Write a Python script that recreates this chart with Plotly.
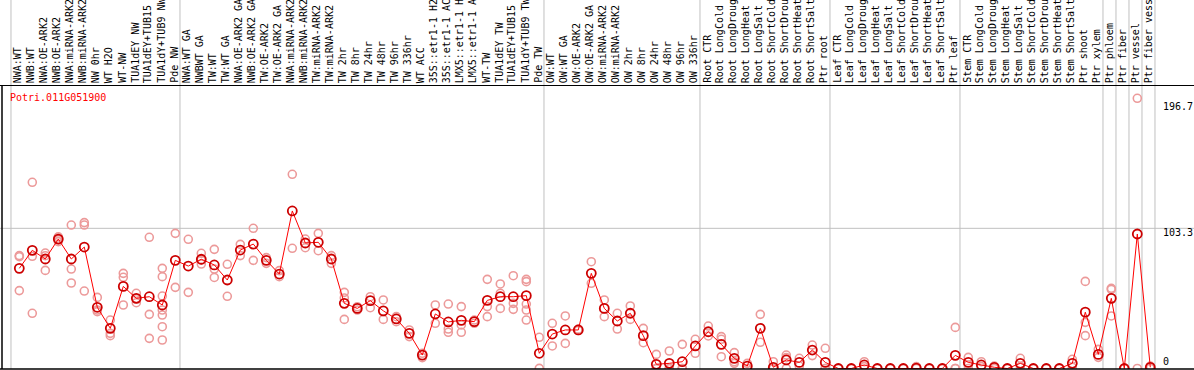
import plotly.graph_objects as go

gene = "Potri.011G051900"

categories = [
    "NWA:WT", "NWB:WT", "NWA:OE-ARK2", "NWB:OE-ARK2", "NWA:miRNA-ARK2", "NWB:miRNA-ARK2",
    "NW 0hr", "WT H2O", "WT-NW", "TUA1dEY NW", "TUA1dEY+TUB15", "TUA1dY+TUB9 NW", "Pde NW",
    "NWA:WT GA", "NWBWT GA", "TW:WT", "TW:WT GA", "NWA:OE-ARK2 GA", "NWB:OE-ARK2 GA",
    "TW:OE-ARK2", "TW:OE-ARK2 GA", "NWA:miRNA-ARK2", "NWB:miRNA-ARK2", "TW:miRNA-ARK2",
    "TW:miRNA-ARK2", "TW 2hr", "TW 8hr", "TW 24hr", "TW 48hr", "TW 96hr", "TW 336hr",
    "WT ACC", "35S::etr1-1 H2", "35S::etr1-1 AC", "LMX5::etr1-1 H", "LMX5::etr1-1 A",
    "WT-TW", "TUA1dEY TW", "TUA1dEY+TUB15", "TUA1dY+TUB9 TW", "Pde TW",
    "OW:WT", "OW:WT GA", "OW:OE-ARK2", "OW:OE-ARK2 GA", "OW:miRNA-ARK2", "OW:miRNA-ARK2",
    "OW 2hr", "OW 8hr", "OW 24hr", "OW 48hr", "OW 96hr", "OW 336hr",
    "Root CTR", "Root LongCold", "Root LongDroug", "Root LongHeat", "Root LongSalt",
    "Root ShortCold", "Root ShortDrou", "Root ShortHeat", "Root ShortSalt", "Ptr root",
    "Leaf CTR", "Leaf LongCold", "Leaf LongDroug", "Leaf LongHeat", "Leaf LongSalt",
    "Leaf ShortCold", "Leaf ShortDrou", "Leaf ShortHeat", "Leaf ShortSalt", "Ptr leaf",
    "Stem CTR", "Stem LongCold", "Stem LongDroug", "Stem LongHeat", "Stem LongSalt",
    "Stem ShortCold", "Stem ShortDrou", "Stem ShortHeat", "Stem ShortSalt",
    "Ptr shoot", "Ptr xylem", "Ptr phloem", "Ptr fiber", "Ptr vessel", "Ptr fiber vess",
]

means = [
    73.8, 87.1, 80.7, 95.4, 80.7, 89.5, 45.1, 29.6, 60.5, 51.7, 52.9, 46.8, 79.7,
    75.5, 80.5, 76.3, 65.2, 87.3, 91.7, 79.7, 69.6, 116.1, 92.5, 93.0, 80.7, 48.0,
    44.3, 50.0, 42.5, 36.5, 25.9, 9.9, 40.2, 34.3, 35.5, 34.5, 50.2, 52.9, 52.9,
    53.7, 11.2,
    25.4, 28.4, 28.4, 70.1, 44.3, 35.0, 40.7, 24.2, 3.1, 3.8, 5.0, 16.6,
    27.1, 17.8, 7.5, 1.8, 29.6, 0.9, 6.3, 4.5, 13.6, 4.5,
    0.0, 0.0, 2.6, 0.0, 0.0, 0.0, 0.3, 0.0, 0.0, 9.7,
    4.5, 2.6, 0.9, 0.0, 3.8, 0.0, 0.0, 0.0, 3.8,
    41.5, 10.4, 51.7, 0.0, 99.1, 0.9,
]

replicates = [
    [83.2, 82.4, 57.4], [137.2, 82.7, 40.7], [85.1, 83.1, 72.3], [97.0, 95.0, 93.5],
    [105.7, 73.3, 63.0], [107.5, 105.7, 57.1], [52.4, 43.1, 41.9], [35.7, 25.9, 24.2],
    [70.1, 67.2, 46.8], [55.4, 51.5, 48.5], [96.7, 39.9, 22.2],
    [73.8, 67.7, 53.4, 43.1, 39.4, 30.8, 21.0], [99.6, 59.8],
    [95.2, 56.1], [84.9, 80.0, 77.0], [87.8, 73.3, 67.1], [76.8, 53.2], [91.5, 83.2],
    [103.3, 79.7], [81.7, 77.5], [72.1, 67.7], [143.1, 88.6], [95.4, 89.0],
    [99.6, 86.8], [83.2, 77.5], [56.1, 52.0, 36.2], [45.5, 43.1], [52.9, 44.8],
    [50.5, 36.2], [38.2, 34.5], [28.4, 23.5], [11.2, 8.0], [46.8, 33.3],
    [47.5, 29.1, 26.7], [45.6, 32.1, 26.7], [35.7, 33.3], [65.7, 45.6, 38.2],
    [62.3, 55.4, 44.3], [68.4, 48.0, 43.6], [65.7, 64.0, 47.5, 43.1, 35.7], [23.0, 0.1],
    [33.3, 16.6], [38.7, 18.5], [29.0, 28.0], [78.7, 62.8], [50.5, 38.2], [40.7, 29.1],
    [46.1, 36.2], [29.6, 19.0], [10.4, 0.0, 0.0], [12.9, 0.0, 0.0], [17.8, 0.0, 0.0],
    [21.5, 11.2],
    [31.3, 24.0], [23.5, 21.5, 8.7], [11.7, 5.0, 3.8], [3.8, 0.0], [39.9, 19.3],
    [5.0, 0.0], [9.9, 8.0, 0.0], [7.5, 1.8], [17.3, 9.5], [14.9, 0.0, 0.0],
    [0.0, 0.0], [0.0, 0.0], [5.0, 1.4], [0.0, 0.0], [0.0, 0.0], [0.0, 0.0],
    [1.4, 0.0], [0.0, 0.0], [0.0, 0.0], [30.3, 0.0, 0.0],
    [8.2, 2.6, 0.0], [5.0, 1.4], [1.8, 0.0], [0.0, 0.0], [7.5, 1.4], [0.0, 0.0],
    [0.0, 0.0], [0.0, 0.0], [6.8, 0.9],
    [64.2, 34.0, 24.2], [14.1, 8.2], [59.1, 58.3, 38.7], [0.0, 0.0], [199.1, 0.0],
    [1.8, 0.0],
]

# index of the last column in each group (a gray separator follows it)
group_ends = [-1, 12, 40, 52, 62, 72, 83, 84, 85, 86, 87]

y_ticks = [196.7, 103.3, 0]

W, H = 1194, 370
ML, MR, MT, MB = 2, 0, 85, 1
plot_h = H - MT - MB
plot_w = W - ML - MR

# px = 19.3 + 13*i  ->  axis range
x0 = (ML - 19.3) / 13.0
x1 = (W - MR - 19.3) / 13.0
# y px = 368.5 - 1.357*v
y_lo = (368.5 - (H - MB)) / 1.357
y_hi = (368.5 - MT) / 1.357

idx = list(range(len(categories)))

fig = go.Figure()

rx, ry = [], []
for i, reps in enumerate(replicates):
    for r in reps:
        rx.append(i)
        ry.append(r)

fig.add_trace(go.Scatter(
    x=rx, y=ry, mode="markers",
    marker=dict(symbol="circle-open", size=8, color="#ec9a9a", line=dict(width=1.6, color="#ec9a9a")),
    hoverinfo="skip", showlegend=False,
))
fig.add_trace(go.Scatter(
    x=idx, y=means, mode="lines+markers",
    line=dict(color="#ff0000", width=1),
    marker=dict(symbol="circle-open", size=9, color="#cc0000", line=dict(width=1.8, color="#cc0000")),
    showlegend=False,
))

shapes = []
top_paper = (H - MB) / plot_h  # paper y of pixel row 0
for g in group_ends:
    shapes.append(dict(type="line", xref="x", yref="paper", x0=g + 0.36, x1=g + 0.36,
                       y0=0, y1=top_paper, line=dict(color="#c0c0c0", width=1), layer="below"))
shapes.append(dict(type="line", xref="paper", yref="y", x0=-ML / plot_w, x1=1,
                   y0=103.3, y1=103.3, line=dict(color="#c0c0c0", width=1), layer="below"))
# black frame lines
shapes.append(dict(type="line", xref="paper", yref="paper", x0=-ML / plot_w, x1=1,
                   y0=1 - 0.5 / plot_h, y1=1 - 0.5 / plot_h, line=dict(color="black", width=1)))
shapes.append(dict(type="line", xref="paper", yref="paper", x0=-ML / plot_w, x1=1,
                   y0=0, y1=0, line=dict(color="black", width=1.5)))
shapes.append(dict(type="line", xref="paper", yref="paper", x0=0, x1=0,
                   y0=0, y1=1, line=dict(color="black", width=1.5)))

annotations = []
label_y = (H - MB - 84) / plot_h
for i, c in enumerate(categories):
    annotations.append(dict(
        x=i, y=label_y, xref="x", yref="paper", text=c, textangle=-90,
        xanchor="center", yanchor="bottom", showarrow=False, xshift=-1, borderpad=0,
        font=dict(family="DejaVu Sans Mono", size=10, color="black"),
    ))
annotations.append(dict(
    x=(9 - ML) / plot_w, y=(H - MB - 91) / plot_h, xref="paper", yref="paper", text=gene,
    xanchor="left", yanchor="top", showarrow=False, borderpad=0,
    font=dict(family="DejaVu Sans Mono", size=10, color="#ff0000"),
))
for t in y_ticks:
    annotations.append(dict(
        x=(1162 - ML) / plot_w, y=t, xref="paper", yref="y", text=f"{t:g}",
        xanchor="left", yanchor="top" if t > 0 else "bottom", yshift=2 if t > 0 else 1,
        showarrow=False, borderpad=0,
        font=dict(family="DejaVu Sans Mono", size=10, color="black"),
    ))

fig.update_layout(
    width=W, height=H,
    margin=dict(l=ML, r=MR, t=MT, b=MB, pad=0),
    paper_bgcolor="white", plot_bgcolor="white",
    xaxis=dict(range=[x0, x1], showgrid=False, zeroline=False, showticklabels=False,
               ticks="", showline=False, fixedrange=True),
    yaxis=dict(range=[y_lo, y_hi], showgrid=False, zeroline=False, showticklabels=False,
               ticks="", showline=False, fixedrange=True),
    shapes=shapes, annotations=annotations,
    showlegend=False,
)

fig.write_html(
    "out.html",
    config={"displayModeBar": False},
    post_script="document.body.style.margin='0';document.body.style.overflow='hidden';",
)
